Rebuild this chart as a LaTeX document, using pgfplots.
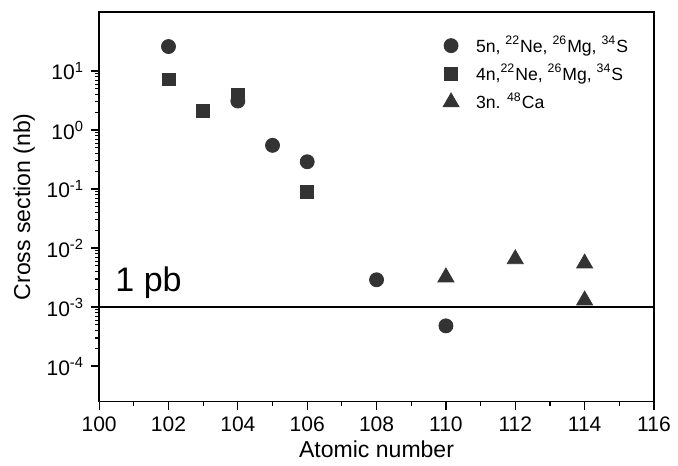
\documentclass[border=0pt]{standalone}
\usepackage{fontspec}
\setmainfont{Liberation Sans}
\usepackage{pgfplots}
\pgfplotsset{compat=1.18}

\definecolor{markgray}{HTML}{333333}

\begin{document}
\begin{tikzpicture}
\begin{axis}[
    scale only axis,
    width=277pt, height=194.5pt,
    xmin=100, xmax=116,
    ymode=log, ymin=2.5e-5, ymax=100,
    xtick={100,102,...,116},
    minor x tick num=1,
    ytick={1e-4,1e-3,1e-2,1e-1,1,10},
    yticklabels={10\textsuperscript{-4},10\textsuperscript{-3},10\textsuperscript{-2},10\textsuperscript{-1},10\textsuperscript{0},10\textsuperscript{1}},
    /pgf/number format/assume math mode=true,
    tick align=outside,
    xtick pos=bottom, ytick pos=left,
    major tick length=4pt, minor tick length=2pt,
    tick style={black, line width=0.6pt},
    axis line style={line width=0.7pt},
    ticklabel style={font=\fontsize{10.5}{12}\selectfont},
    label style={font=\fontsize{11.5}{13}\selectfont},
    xlabel={Atomic number},
    ylabel={Cross section (nb)},
    xlabel style={yshift=2.5pt},
    ylabel style={yshift=-1pt},
    legend style={at={(0.972,0.96)}, anchor=north east, draw=none, fill=none,
        font=\fontsize{8.8}{11}\selectfont, row sep=0.5pt,
        /tikz/every odd column/.append style={column sep=6.5pt}},
    legend cell align=left,
]
\addplot[only marks, mark=*, mark size=3.5pt, color=markgray] coordinates {
    (102,26) (104,3.1) (105,0.55) (106,0.29) (108,0.0029) (110,0.00048)};
\addlegendentry{5n, \textsuperscript{22}Ne, \textsuperscript{26}Mg, \textsuperscript{34}S}
\addplot[only marks, mark=square*, mark size=3.2pt, color=markgray] coordinates {
    (102,7.2) (103,2.1) (104,3.9) (106,0.09)};
\addlegendentry{4n,\textsuperscript{22}Ne, \textsuperscript{26}Mg, \textsuperscript{34}S}
\addplot[only marks, mark=triangle*, mark size=4.6pt, color=markgray] coordinates {
    (110,0.0032) (112,0.0065) (114,0.0055) (114,0.0013)};
\addlegendentry{3n. \textsuperscript{48}Ca}
\addplot[black, line width=0.6pt, forget plot] coordinates {(100,1e-3) (116,1e-3)};
\node[anchor=south west, font=\fontsize{17}{17}\selectfont, inner sep=1pt] at (axis cs:100.4,1.25e-3) {1 pb};
\coordinate (bl) at (rel axis cs:0,0);
\coordinate (tr) at (rel axis cs:1,1);
\end{axis}
\pgfresetboundingbox
\path ([shift={(-49.5pt,-32pt)}]bl) rectangle ([shift={(12pt,6pt)}]tr);
\end{tikzpicture}
\end{document}
